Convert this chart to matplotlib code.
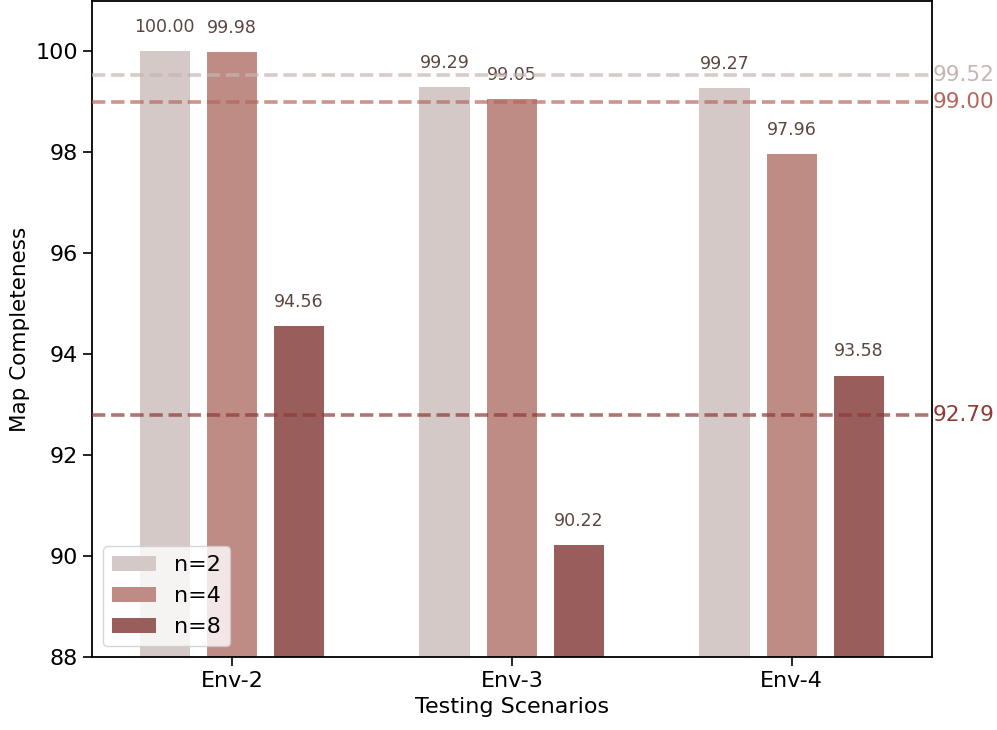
import matplotlib
matplotlib.use("Agg")
import matplotlib.pyplot as plt
import numpy as np

scenarios = ["Env-2", "Env-3", "Env-4"]
series_names = ["n=2", "n=4", "n=8"]
vals_n2 = [100.00, 99.29, 99.27]
vals_n4 = [99.98, 99.05, 97.96]
vals_n8 = [94.56, 90.22, 93.58]
mean_vals = [99.52, 99.00, 92.79]

bar_colors = ["#d5c9c8", "#bf8b85", "#995e5b"]
text_colors = ["#c6b5b2", "#b5675f", "#8e3a35"]
label_color = "#5b463f"

fig = plt.figure(figsize=(9.97, 7.30), dpi=100)
ax = fig.add_axes([0.0923, 0.0995, 0.8422, 0.8995])

x = np.arange(len(scenarios))
width = 0.18
offset = 0.24
all_vals = [vals_n2, vals_n4, vals_n8]
for i, (name, vals) in enumerate(zip(series_names, all_vals)):
    xs = x + (i - 1) * offset
    ax.bar(xs, vals, width, color=bar_colors[i], label=name, zorder=2)
    for xi, v in zip(xs, vals):
        ax.annotate(f"{v:.2f}", (xi, v), xytext=(0, 11), textcoords="offset points",
                    ha="center", va="bottom", fontsize=12.5, color=label_color)

for m, tc in zip(mean_vals, text_colors):
    ax.axhline(m, color=tc, linestyle="--", linewidth=2.6, alpha=0.7, zorder=3)
    ax.text(1.001, m, f"{m:.2f}", transform=ax.get_yaxis_transform(), ha="left",
            va="center", fontsize=15.5, color=tc, clip_on=False)

ax.set_xlim(-0.5, 2.5)
ax.set_ylim(88, 101)
ax.set_yticks([88, 90, 92, 94, 96, 98, 100])
ax.set_xticks(x)
ax.set_xticklabels(scenarios)
ax.tick_params(axis="both", labelsize=16, length=6.5, width=1.2)
ax.set_xlabel("Testing Scenarios", fontsize=16)
ax.set_ylabel("Map Completeness", fontsize=15.5)
for s in ax.spines.values():
    s.set_linewidth(1.3)

ax.legend(loc="lower left", fontsize=16, framealpha=0.8, borderaxespad=0.5)

fig.savefig("out.png", dpi=100)
